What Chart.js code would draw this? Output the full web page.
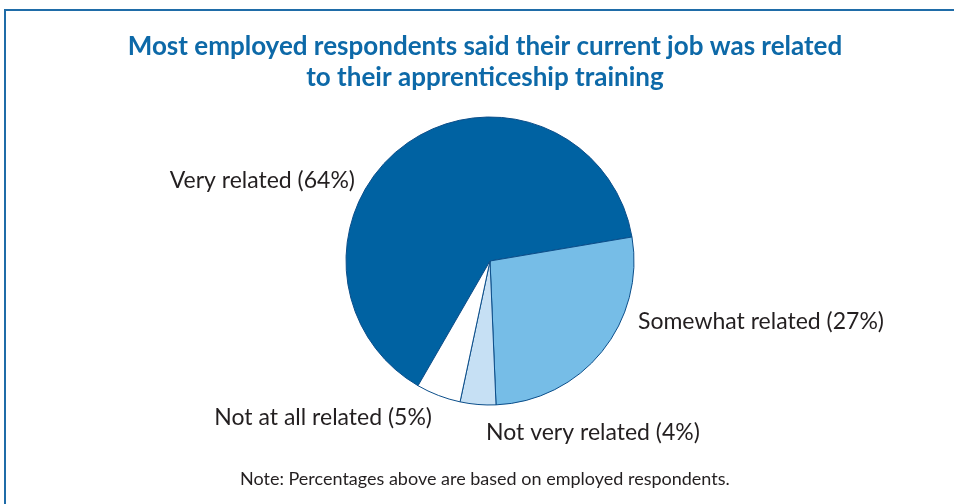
<!DOCTYPE html>
<html>
<head>
<meta charset="utf-8">
<script src="https://cdn.jsdelivr.net/npm/chart.js@4/dist/chart.umd.min.js"></script>
<style>
  html, body { margin: 0; padding: 0; background: #ffffff; }
  #wrap { position: relative; width: 954px; height: 504px; overflow: hidden; }
  #frame {
    position: absolute; left: 4px; top: 9px; width: 1000px; height: 520px;
    border-left: 2px solid #1f6ca8; border-top: 2px solid #1f6ca8;
  }
  canvas { position: absolute; left: 0; top: 0; }
</style>
</head>
<body>
<div id="wrap">
  <div id="frame"></div>
  <canvas id="c" width="954" height="504"></canvas>
</div>
<script>
// Survey categories and their shares (%)
const categories = ['Very related', 'Somewhat related', 'Not very related', 'Not at all related'];
const shares = [64, 27, 4, 5];
const sliceColors = ['#0062a2', '#76bde7', '#c6e0f4', '#ffffff'];

const titleLines = [
  'Most employed respondents said their current job was related',
  'to their apprenticeship training'
];
const noteText = 'Note: Percentages above are based on employed respondents.';

// Where each slice label sits (canvas px, text baseline) and how it is aligned
const labelPlacement = [
  { x: 355, y: 188, align: 'right' },
  { x: 638, y: 329, align: 'left' },
  { x: 486, y: 440, align: 'left' },
  { x: 432, y: 425, align: 'right' }
];

const textPlugin = {
  id: 'textLayer',
  afterDraw(chart) {
    const ctx = chart.ctx;
    ctx.save();

    ctx.textBaseline = 'middle';
    ctx.fillStyle = '#0d69a8';
    ctx.font = 'bold 26px Lato';
    ctx.textAlign = 'center';
    ctx.fillText(titleLines[0], 485, 47);
    ctx.fillText(titleLines[1], 485, 78);

    ctx.textBaseline = 'alphabetic';
    ctx.fillStyle = '#231f20';
    ctx.font = '23px Lato';
    categories.forEach((name, i) => {
      const p = labelPlacement[i];
      ctx.textAlign = p.align;
      ctx.fillText(name + ' (' + shares[i] + '%)', p.x, p.y);
    });

    ctx.font = '18px Lato';
    ctx.textAlign = 'left';
    ctx.fillText(noteText, 240, 485);
    ctx.restore();
  }
};

new Chart(document.getElementById('c'), {
  type: 'pie',
  data: {
    labels: categories,
    datasets: [{
      data: shares,
      backgroundColor: sliceColors,
      borderColor: '#0b4e8a',
      borderWidth: 1,
      hoverOffset: 0
    }]
  },
  options: {
    responsive: false,
    animation: false,
    rotation: 210,
    radius: 144,
    layout: { padding: { left: 26, right: 0, top: 18, bottom: 0 } },
    plugins: {
      legend: { display: false },
      tooltip: { enabled: false },
      title: { display: false }
    }
  },
  plugins: [textPlugin]
});
</script>
</body>
</html>
